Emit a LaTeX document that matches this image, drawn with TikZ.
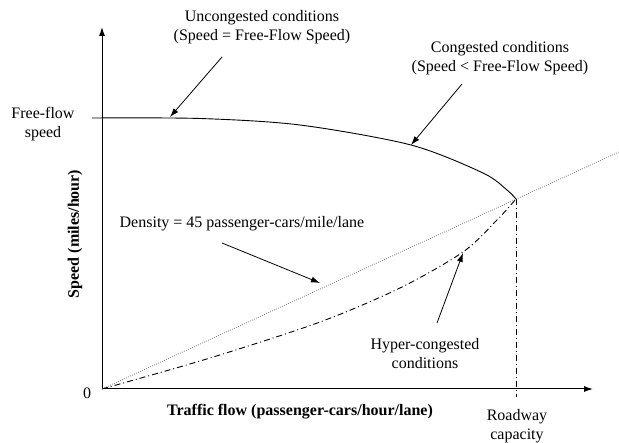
\documentclass[tikz,border=0pt]{standalone}
\usepackage{fontspec}
\setmainfont{Liberation Serif}
\usetikzlibrary{arrows.meta}
\tikzset{>={Latex[length=9pt,width=6pt]}}

\begin{document}
\begin{tikzpicture}[x=1pt, y=-1pt, font=\fontsize{16}{19}\selectfont]
\tikzset{dashdot/.style={line width=0.9pt, dash pattern=on 6pt off 3pt on 1pt off 3pt}}
\tikzset{lbl/.style={align=center, inner sep=0pt}}
    \useasboundingbox (0,0) rectangle (619,443);
    \coordinate (O) at (102,389);
    \coordinate (Ytop) at (102,27);
    \coordinate (Xend) at (593,389);
    \coordinate (Fs) at (92,118);
    \coordinate (Cap) at (516,199);
    \coordinate (Capb) at (516,397);
    \coordinate (Dend) at (619,152);

    \draw[->, line width=1pt] (O) -- (Ytop);
    \draw[->, line width=1pt] (O) -- (Xend);
% % % % % % % % % % % % % % % % % % %
    \draw[line width=0.9pt] plot[smooth, tension=0.5] coordinates
        {(Fs) (200,118.5) (300,125) (411,145) (483,173) (507,190) (Cap)};
    \draw[gray, line width=0.7pt, dash pattern=on 1pt off 1.2pt] (O) -- (Dend);
    \draw[dashdot] plot[smooth, tension=0.5] coordinates
        {(O) (210,358) (320,322) (400,288) (463,252) (497,220) (Cap)};
    \draw[dashdot] (Cap) -- (Capb);
% % % % % % % % % % % % % % % % % % %
    \node[lbl] (uncong) at (262,27.5) {Uncongested conditions\\(Speed = Free-Flow Speed)};
    \node[lbl] (cong) at (500,58) {Congested conditions\\(Speed < Free-Flow Speed)};
    \node[lbl] (ffs) at (43,124) {Free-flow\\speed};
    \node[lbl] (dens) at (242,224) {Density = 45 passenger-cars/mile/lane};
    \node[lbl] (hyper) at (425,354) {Hyper-congested\\conditions};
    \node[lbl] (rcap) at (517,426) {Roadway\\capacity};
    \node[lbl] (zero) at (87,393) {0};
    \node[lbl, font=\fontsize{16}{19}\selectfont\bfseries] (xlab) at (300,412) {Traffic flow (passenger-cars/hour/lane)};
    \node[lbl, font=\fontsize{16}{19}\selectfont\bfseries, rotate=90] (ylab) at (75,234) {Speed (miles/hour)};
% % % % % % % % % % % % % % % % % % %
    \coordinate (UnT) at (222,57);
    \coordinate (UnH) at (170,117);
    \coordinate (CoT) at (462,84);
    \coordinate (CoH) at (411,145);
    \coordinate (DeT) at (222,243);
    \coordinate (DeH) at (320,283);
    \coordinate (HyT) at (437,323);
    \coordinate (HyH) at (463,253);

    \draw[->, line width=0.8pt] (UnT) -- (UnH);
    \draw[->, line width=0.8pt] (CoT) -- (CoH);
    \draw[->, line width=0.8pt] (DeT) -- (DeH);
    \draw[->, line width=0.8pt] (HyT) -- (HyH);
\end{tikzpicture}
\end{document}
